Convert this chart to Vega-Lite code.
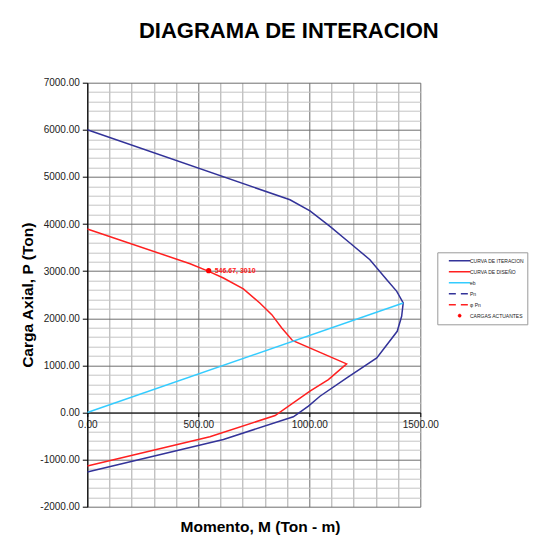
{
  "$schema": "https://vega.github.io/schema/vega-lite/v6.json",
  "autosize": "none",
  "width": 333,
  "height": 424,
  "padding": {"left": 87.3, "top": 82.7, "right": 118.7, "bottom": 43.3},
  "background": "white",
  "title": {
    "text": "DIAGRAMA DE INTERACION",
    "font": "Liberation Sans",
    "fontSize": 22,
    "fontWeight": "bold",
    "color": "#000000",
    "anchor": "middle",
    "frame": "group",
    "baseline": "alphabetic",
    "offset": 18,
    "dx": 35
  },
  "config": {
    "view": {"stroke": null},
    "font": "Liberation Sans",
    "legend": {
      "orient": "none",
      "legendX": 350,
      "legendY": 169.6,
      "padding": 3,
      "strokeColor": "#9a9a9a",
      "fillColor": "white",
      "clipHeight": 10.7,
      "rowPadding": 0,
      "symbolSize": 467,
      "symbolOffset": 16.85,
      "labelOffset": 7.85,
      "labelFontSize": 5,
      "labelFont": "Liberation Sans",
      "labelColor": "#222222",
      "symbolStrokeWidth": 1.5,
      "symbolType": "stroke"
    }
  },
  "data": {
    "values": [
      {"serie": "CURVA DE ITERACION", "i": 1, "M": 0, "P": 6000},
      {"serie": "CURVA DE ITERACION", "i": 2, "M": 913, "P": 4515},
      {"serie": "CURVA DE ITERACION", "i": 3, "M": 1003, "P": 4280},
      {"serie": "CURVA DE ITERACION", "i": 4, "M": 1093, "P": 3949},
      {"serie": "CURVA DE ITERACION", "i": 5, "M": 1183, "P": 3597},
      {"serie": "CURVA DE ITERACION", "i": 6, "M": 1273, "P": 3243},
      {"serie": "CURVA DE ITERACION", "i": 7, "M": 1349, "P": 2819},
      {"serie": "CURVA DE ITERACION", "i": 8, "M": 1394, "P": 2571},
      {"serie": "CURVA DE ITERACION", "i": 9, "M": 1423, "P": 2325},
      {"serie": "CURVA DE ITERACION", "i": 10, "M": 1416, "P": 2041},
      {"serie": "CURVA DE ITERACION", "i": 11, "M": 1396, "P": 1723},
      {"serie": "CURVA DE ITERACION", "i": 12, "M": 1304, "P": 1159},
      {"serie": "CURVA DE ITERACION", "i": 13, "M": 1169, "P": 735},
      {"serie": "CURVA DE ITERACION", "i": 14, "M": 1048, "P": 345},
      {"serie": "CURVA DE ITERACION", "i": 15, "M": 996, "P": 134},
      {"serie": "CURVA DE ITERACION", "i": 16, "M": 944, "P": -42},
      {"serie": "CURVA DE ITERACION", "i": 17, "M": 928, "P": -91},
      {"serie": "CURVA DE ITERACION", "i": 18, "M": 613, "P": -572},
      {"serie": "CURVA DE ITERACION", "i": 19, "M": 0, "P": -1265},
      {"serie": "CURVA DE DISEÑO", "i": 1, "M": 0, "P": 3894},
      {"serie": "CURVA DE DISEÑO", "i": 2, "M": 463, "P": 3158},
      {"serie": "CURVA DE DISEÑO", "i": 3, "M": 547, "P": 2995},
      {"serie": "CURVA DE DISEÑO", "i": 4, "M": 613, "P": 2855},
      {"serie": "CURVA DE DISEÑO", "i": 5, "M": 703, "P": 2622},
      {"serie": "CURVA DE DISEÑO", "i": 6, "M": 777, "P": 2325},
      {"serie": "CURVA DE DISEÑO", "i": 7, "M": 831, "P": 2077},
      {"serie": "CURVA DE DISEÑO", "i": 8, "M": 876, "P": 1795},
      {"serie": "CURVA DE DISEÑO", "i": 9, "M": 924, "P": 1530},
      {"serie": "CURVA DE DISEÑO", "i": 10, "M": 1168, "P": 1032},
      {"serie": "CURVA DE DISEÑO", "i": 11, "M": 1086, "P": 699},
      {"serie": "CURVA DE DISEÑO", "i": 12, "M": 1003, "P": 451},
      {"serie": "CURVA DE DISEÑO", "i": 13, "M": 846, "P": -64},
      {"serie": "CURVA DE DISEÑO", "i": 14, "M": 552, "P": -515},
      {"serie": "CURVA DE DISEÑO", "i": 15, "M": 0, "P": -1138},
      {"serie": "eb", "i": 1, "M": 0, "P": 0},
      {"serie": "eb", "i": 2, "M": 1423, "P": 2325},
      {"serie": "CARGAS ACTUANTES", "i": 1, "M": 546.67, "P": 3010, "etiqueta": "546.67, 3010"}
    ]
  },
  "encoding": {
    "x": {
      "field": "M",
      "type": "quantitative",
      "scale": {"domain": [0, 1500], "nice": false, "zero": false},
      "axis": {
        "orient": "bottom",
        "offset": -94.2,
        "values": [0, 100, 200, 300, 400, 500, 600, 700, 800, 900, 1000, 1100, 1200, 1300, 1400, 1500],
        "labelExpr": "datum.value % 500 === 0 ? format(datum.value, '.2f') : ''",
        "labelFontSize": 10,
        "labelColor": "#222222",
        "labelFont": "Liberation Sans",
        "labelPadding": 3,
        "labelOverlap": false,
        "labelFlush": false,
        "tickSize": 4,
        "tickColor": "#000000",
        "tickOpacity": {"condition": {"test": "datum.value % 500 === 0", "value": 1}, "value": 0},
        "domainColor": "#000000",
        "domainWidth": 1.2,
        "grid": true,
        "gridColor": {"condition": {"test": "datum.value % 500 === 0", "value": "#6e6e6e"}, "value": "#a8a8a8"},
        "gridWidth": 1,
        "gridOpacity": 1,
        "title": "Momento, M (Ton - m)",
        "titleFont": "Liberation Sans",
        "titleFontSize": 15.5,
        "titleFontWeight": "bold",
        "titleColor": "#000000",
        "titleBaseline": "alphabetic",
        "titleAlign": "center",
        "titleAnchor": null,
        "titleX": 172.7,
        "titleY": 119
      }
    },
    "y": {
      "field": "P",
      "type": "quantitative",
      "scale": {"domain": [-2000, 7000], "nice": false, "zero": false},
      "axis": {
        "orient": "left",
        "values": [-2000, -1800, -1600, -1400, -1200, -1000, -800, -600, -400, -200, 0, 200, 400, 600, 800, 1000, 1200, 1400, 1600, 1800, 2000, 2200, 2400, 2600, 2800, 3000, 3200, 3400, 3600, 3800, 4000, 4200, 4400, 4600, 4800, 5000, 5200, 5400, 5600, 5800, 6000, 6200, 6400, 6600, 6800, 7000],
        "labelExpr": "datum.value % 1000 === 0 ? (datum.value < 0 ? '-' : '') + format(abs(datum.value), '.2f') : ''",
        "labelFontSize": 10,
        "labelColor": "#222222",
        "labelFont": "Liberation Sans",
        "labelPadding": 3,
        "labelOverlap": false,
        "labelFlush": false,
        "tickSize": 5,
        "tickColor": "#000000",
        "tickOpacity": {"condition": {"test": "datum.value % 1000 === 0", "value": 1}, "value": 0},
        "domainColor": "#000000",
        "domainWidth": 1.2,
        "grid": true,
        "gridColor": {"condition": {"test": "datum.value % 1000 === 0", "value": "#6e6e6e"}, "value": "#c4c4c4"},
        "gridWidth": 1,
        "gridOpacity": 1,
        "title": "Carga Axial, P (Ton)",
        "titleFont": "Liberation Sans",
        "titleFontSize": 15.5,
        "titleFontWeight": "bold",
        "titleColor": "#000000",
        "titlePadding": 4
      }
    }
  },
  "layer": [
    {
      "transform": [{"filter": "datum.serie !== 'CARGAS ACTUANTES'"}],
      "mark": {"type": "line", "strokeWidth": 1.5, "clip": true},
      "encoding": {
        "order": {"field": "i", "type": "quantitative"},
        "color": {
          "field": "serie",
          "type": "nominal",
          "title": null,
          "scale": {
            "domain": ["CURVA DE ITERACION", "CURVA DE DISEÑO", "eb", "Pn", "φ Pn", "CARGAS ACTUANTES"],
            "range": ["#333399", "#FF2020", "#33CCFF", "#333399", "#FF2020", "#FF0000"]
          },
          "legend": {
            "encode": {
              "symbols": {
                "update": {
                  "shape": {"signal": "datum.value === 'CARGAS ACTUANTES' ? 'circle' : 'stroke'"},
                  "size": {"signal": "datum.value === 'CARGAS ACTUANTES' ? 10 : 467"},
                  "stroke": {"signal": "scale('color', datum.value)"},
                  "fill": {"signal": "datum.value === 'CARGAS ACTUANTES' ? '#FF0000' : 'transparent'"},
                  "strokeWidth": {"signal": "datum.value === 'CARGAS ACTUANTES' ? 0.5 : 1.5"},
                  "strokeDash": {"signal": "(datum.value === 'Pn' || datum.value === 'φ Pn') ? [7, 5] : [1, 0]"},
                  "opacity": {"value": 1}
                }
              }
            }
          }
        }
      }
    },
    {
      "transform": [{"filter": "datum.serie === 'CARGAS ACTUANTES'"}],
      "mark": {"type": "circle", "size": 28, "opacity": 1},
      "encoding": {
        "color": {"field": "serie", "type": "nominal", "title": null}
      }
    },
    {
      "transform": [{"filter": "datum.serie === 'CARGAS ACTUANTES'"}],
      "mark": {"type": "text", "align": "left", "baseline": "middle", "dx": 6, "dy": 0, "fontSize": 7, "fontWeight": "bold", "font": "Liberation Sans", "color": "#FF2020"},
      "encoding": {
        "text": {"field": "etiqueta"}
      }
    }
  ]
}
